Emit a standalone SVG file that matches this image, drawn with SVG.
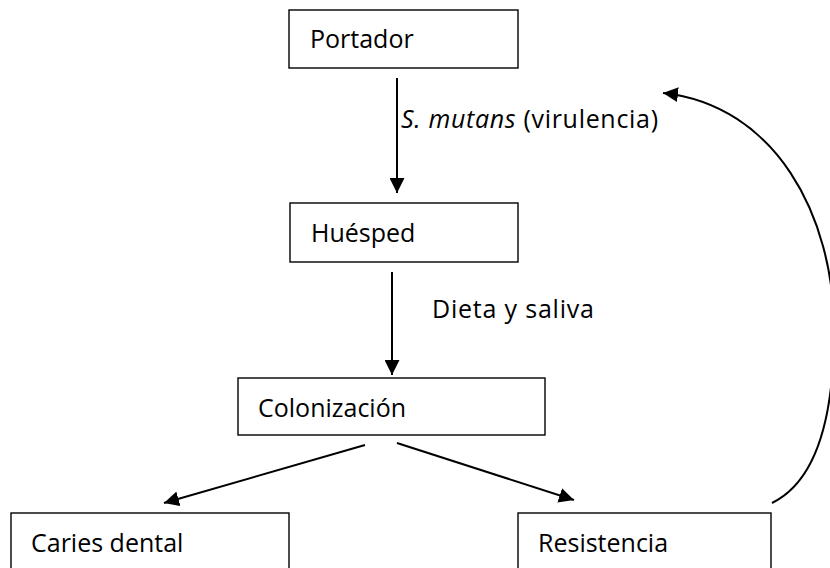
<svg xmlns="http://www.w3.org/2000/svg" width="830" height="568" viewBox="0 0 830 568">
<style>
.box{fill:#fff;stroke:#000;stroke-width:1.4}
.t{font-family:"Open Sans","Liberation Sans",sans-serif;font-size:25px;fill:#000}
.c{fill:none;stroke:#000;stroke-width:2}
</style>
<defs>
<marker id="ah" viewBox="0 0 10 10" refX="10" refY="5" markerWidth="7.5" markerHeight="7.5" orient="auto" markerUnits="strokeWidth">
<path d="M0,0 L10,5 L0,10 z" fill="#000"/>
</marker>
</defs>
<rect width="830" height="568" fill="#fff"/>
<g id="portador"><rect class="box" x="289" y="10" width="229" height="58"/><text class="t" x="310" y="48">Portador</text></g>
<g id="huesped"><rect class="box" x="290" y="203" width="228" height="59"/><text class="t" x="311" y="242">Huésped</text></g>
<g id="colonizacion"><rect class="box" x="238" y="378" width="307" height="57"/><text class="t" x="258" y="417">Colonización</text></g>
<g id="caries"><rect class="box" x="11" y="513" width="278" height="70"/><text class="t" x="31" y="552">Caries dental</text></g>
<g id="resistencia"><rect class="box" x="518" y="513" width="253" height="70"/><text class="t" x="538" y="552">Resistencia</text></g>
<g id="connectors">
<line class="c" x1="397" y1="78" x2="397" y2="193" marker-end="url(#ah)"/>
<line class="c" x1="392" y1="272" x2="392" y2="375" marker-end="url(#ah)"/>
<line class="c" x1="365" y1="445" x2="164" y2="503" marker-end="url(#ah)"/>
<line class="c" x1="397" y1="443" x2="574" y2="500" marker-end="url(#ah)"/>
<path class="c" d="M772,503 C815,482 834,420 834,330 C834,215 775,105 663,93" marker-end="url(#ah)"/>
<text class="t" x="401" y="128" textLength="257"><tspan font-style="italic">S. mutans</tspan> (virulencia)</text>
<text class="t" x="432" y="318" textLength="162">Dieta y saliva</text>
</g>
</svg>
